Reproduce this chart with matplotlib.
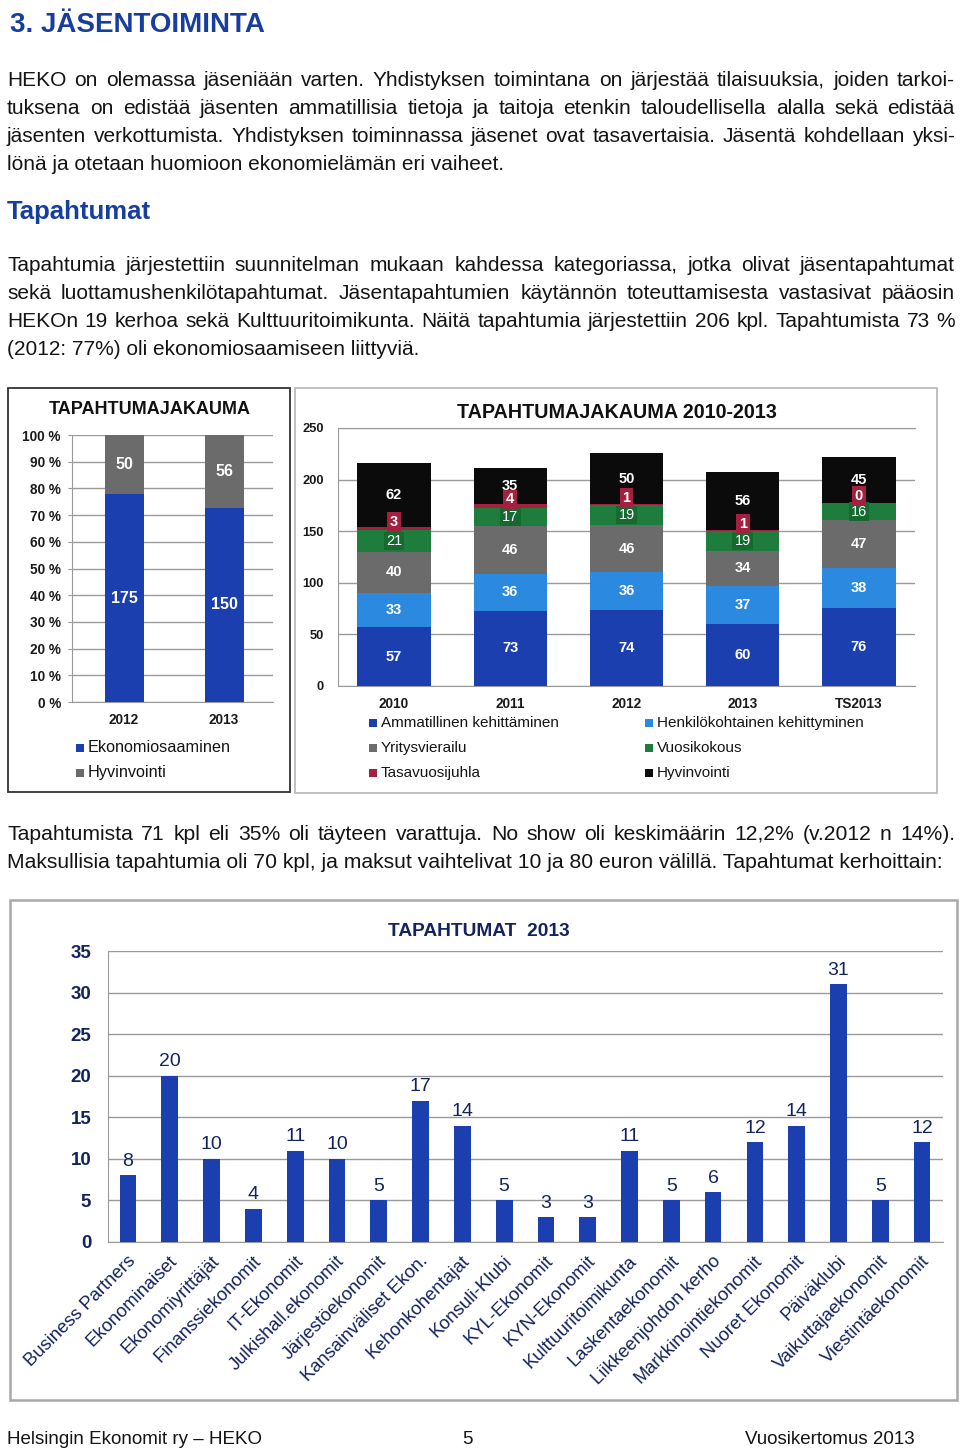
import matplotlib
matplotlib.use('Agg')
import matplotlib.pyplot as plt
from matplotlib.patches import Rectangle
from matplotlib import font_manager as fm
import matplotlib.transforms as mtransforms
import numpy as np

# ---------------- data ----------------
jakauma_years = ['2012', '2013']
ekonomiosaaminen = [175, 150]
hyvinvointi_12_13 = [50, 56]

years = ['2010', '2011', '2012', '2013', 'TS2013']
ammatillinen = [57, 73, 74, 60, 76]
henkilokohtainen = [33, 36, 36, 37, 38]
yritysvierailu = [40, 46, 46, 34, 47]
vuosikokous = [21, 17, 19, 19, 16]
tasavuosijuhla = [3, 4, 1, 1, 0]
hyvinvointi = [62, 35, 50, 56, 45]

kerhot = ['Business Partners', 'Ekonominaiset', 'Ekonomiyrittäjät', 'Finanssiekonomit',
          'IT-Ekonomit', 'Julkishall.ekonomit', 'Järjestöekonomit', 'Kansainväliset Ekon.',
          'Kehonkohentajat', 'Konsuli-Klubi', 'KYL-Ekonomit', 'KYN-Ekonomit',
          'Kulttuuritoimikunta', 'Laskentaekonomit', 'Liikkeenjohdon kerho',
          'Markkinointiekonomit', 'Nuoret Ekonomit', 'Päiväklubi', 'Vaikuttajaekonomit',
          'Viestintäekonomit']
tapahtumat_2013 = [8, 20, 10, 4, 11, 10, 5, 17, 14, 5, 3, 3, 11, 5, 6, 12, 14, 31, 5, 12]

pct_ticks = list(range(0, 101, 10))
mid_ticks = list(range(0, 251, 50))
bot_ticks = list(range(0, 36, 5))

para1 = ["HEKO on olemassa jäseniään varten. Yhdistyksen toimintana on järjestää tilaisuuksia, joiden tarkoi-",
         "tuksena on edistää jäsenten ammatillisia tietoja ja taitoja etenkin taloudellisella alalla sekä edistää",
         "jäsenten verkottumista. Yhdistyksen toiminnassa jäsenet ovat tasavertaisia. Jäsentä kohdellaan yksi-",
         "lönä ja otetaan huomioon ekonomielämän eri vaiheet."]
para2 = ["Tapahtumia järjestettiin suunnitelman mukaan kahdessa kategoriassa, jotka olivat jäsentapahtumat",
         "sekä luottamushenkilötapahtumat. Jäsentapahtumien käytännön toteuttamisesta vastasivat pääosin",
         "HEKOn 19 kerhoa sekä Kulttuuritoimikunta. Näitä tapahtumia järjestettiin 206 kpl. Tapahtumista 73 %",
         "(2012: 77%) oli ekonomiosaamiseen liittyviä."]
para3 = ["Tapahtumista 71 kpl eli 35% oli täyteen varattuja. No show oli keskimäärin 12,2% (v.2012 n 14%).",
         "Maksullisia tapahtumia oli 70 kpl, ja maksut vaihtelivat 10 ja 80 euron välillä. Tapahtumat kerhoittain:"]

# ---------------- setup ----------------
W, H = 960, 1449
fig = plt.figure(figsize=(W / 100, H / 100), dpi=100)
renderer = fig.canvas.get_renderer()

installed = {f.name for f in fm.fontManager.ttflist}
SANS = 'Liberation Sans'
HAS_NARROW = 'Liberation Sans Narrow' in installed
NARROW = 'Liberation Sans Narrow' if HAS_NARROW else 'Liberation Sans'
FOOT_SIZE = 15 if HAS_NARROW else 13.5

HEAD_BLUE = '#173d9e'
TXT = '#141414'
NAVY = '#13235e'
BLUE = '#1b3fae'
LBLUE = '#2b8ae0'
GRAY = '#6b6b6b'
GREEN = '#1e7d3c'
RED = '#a3203f'
BLACK = '#0b0b0b'


def fx(x):
    return x / W


def fy(y):
    return 1 - y / H


def rect(x0, y0, x1, y1):
    return [fx(x0), fy(y1), (x1 - x0) / W, (y1 - y0) / H]


def text_width(s, size, family, weight='normal'):
    t = fig.text(0, 0, s, fontsize=size, family=family, weight=weight)
    w = t.get_window_extent(renderer).width
    t.remove()
    return w


def paragraph(lines, baselines, x0, x1, size, family, justify_last=False, color=TXT):
    n = len(lines)
    for i, s in enumerate(lines):
        if i < n - 1 or justify_last:
            nw = text_width(s, size, family)
            if nw > (x1 - x0) * 0.995:
                size = size * (x1 - x0) * 0.99 / nw
    for i, (s, yb) in enumerate(zip(lines, baselines)):
        if i == n - 1 and not justify_last:
            fig.text(fx(x0), fy(yb), s, fontsize=size, family=family, color=color,
                     ha='left', va='baseline')
            continue
        words = s.split(' ')
        widths = [text_width(w, size, family) for w in words]
        gap = (x1 - x0 - sum(widths)) / (len(words) - 1)
        x = x0
        for w, wd in zip(words, widths):
            fig.text(fx(x), fy(yb), w, fontsize=size, family=family, color=color,
                     ha='left', va='baseline')
            x += wd + gap


def box(x0, y0, x1, y1, color, lw):
    fig.add_artist(Rectangle((fx(x0), fy(y1)), (x1 - x0) / W, (y1 - y0) / H,
                             transform=fig.transFigure, fill=False, edgecolor=color, lw=lw))


def legend_entry(xs, yc, color, label, size=11):
    s = 8
    fig.add_artist(Rectangle((fx(xs), fy(yc + s / 2)), s / W, s / H, transform=fig.transFigure,
                             facecolor=color, edgecolor='none'))
    fig.text(fx(xs + s + 4), fy(yc), label, fontsize=size, family=SANS, color=TXT,
             ha='left', va='center')


# ---------------- text ----------------
fig.text(fx(10), fy(32), '3. JÄSENTOIMINTA', fontsize=20, weight='bold', family=SANS,
         color=HEAD_BLUE, va='baseline')
paragraph(para1, [86, 114, 142, 170], 7, 955, 15, SANS)
fig.text(fx(7), fy(219), 'Tapahtumat', fontsize=18.5, weight='bold', family=SANS,
         color=HEAD_BLUE, va='baseline')
paragraph(para2, [271, 299, 327, 355], 7, 955, 15, NARROW)
paragraph(para3, [840, 868], 7, 955, 15.2, NARROW)

fig.text(fx(7), fy(1444), 'Helsingin Ekonomit ry – HEKO', fontsize=FOOT_SIZE, family=NARROW,
         color=TXT, va='baseline')
fig.text(fx(467), fy(1444), '5', fontsize=FOOT_SIZE, family=NARROW, color=TXT, va='baseline',
         ha='center')
fig.text(fx(915), fy(1444), 'Vuosikertomus 2013', fontsize=FOOT_SIZE, family=NARROW, color=TXT,
         va='baseline', ha='right')

# ---------------- left chart ----------------
box(8, 388, 290, 792, '#333333', 1.3)
fig.text(fx(150), fy(409), 'TAPAHTUMAJAKAUMA', fontsize=13, weight='bold', family=SANS,
         color='#111111', ha='center', va='center')
ax1 = fig.add_axes(rect(72, 435, 273, 702))
tot = np.array(ekonomiosaaminen) + np.array(hyvinvointi_12_13)
p_eko = np.array(ekonomiosaaminen) / tot * 100
p_hyv = np.array(hyvinvointi_12_13) / tot * 100
x1 = np.arange(len(jakauma_years))
ax1.bar(x1, p_eko, 0.39, color=BLUE, zorder=3)
ax1.bar(x1, p_hyv, 0.39, bottom=p_eko, color=GRAY, zorder=3)
for i in range(len(x1)):
    ax1.text(x1[i], p_eko[i] / 2, str(ekonomiosaaminen[i]), color='white', weight='bold',
             fontsize=11.5, ha='center', va='center', family=SANS, zorder=4)
    ax1.text(x1[i], p_eko[i] + p_hyv[i] / 2, str(hyvinvointi_12_13[i]), color='white',
             weight='bold', fontsize=11.5, ha='center', va='center', family=SANS, zorder=4)
ax1.set_xlim(-0.52, 1.49)
ax1.set_ylim(0, 100)
ax1.set_yticks(pct_ticks)
ax1.set_yticklabels([f'{v} %' for v in pct_ticks], fontsize=9.8, weight='bold', family=SANS,
                    color='#1a1a1a')
ax1.set_xticks(x1)
ax1.set_xticklabels(jakauma_years, fontsize=9.8, weight='bold', family=SANS, color='#1a1a1a')
ax1.tick_params(axis='y', length=3, color='#999999', pad=5)
ax1.tick_params(axis='x', length=0, pad=8)
ax1.grid(axis='y', color='#9a9a9a', lw=1, zorder=0)
for s in ['top', 'right']:
    ax1.spines[s].set_visible(False)
for s in ['left', 'bottom']:
    ax1.spines[s].set_color('#9a9a9a')
legend_entry(76, 748, BLUE, 'Ekonomiosaaminen', 11.7)
legend_entry(76, 773, GRAY, 'Hyvinvointi', 11.7)

# ---------------- middle chart ----------------
box(295, 388, 937, 793, '#b5b5b5', 1.2)
fig.text(fx(617), fy(413), 'TAPAHTUMAJAKAUMA 2010-2013', fontsize=14.2, weight='bold',
         family=SANS, color='#111111', ha='center', va='center')
ax2 = fig.add_axes(rect(338, 428, 915, 686))
x2 = np.arange(len(years))
series = [(ammatillinen, BLUE, 'Ammatillinen kehittäminen'),
          (henkilokohtainen, LBLUE, 'Henkilökohtainen kehittyminen'),
          (yritysvierailu, GRAY, 'Yritysvierailu'),
          (vuosikokous, GREEN, 'Vuosikokous'),
          (tasavuosijuhla, RED, 'Tasavuosijuhla'),
          (hyvinvointi, BLACK, 'Hyvinvointi')]
bottom = np.zeros(len(years))
bw = 0.63
for vals, col, name in series:
    vals = np.array(vals)
    ax2.bar(x2, vals, bw, bottom=bottom, color=col, zorder=3)
    for i in range(len(years)):
        yc = bottom[i] + vals[i] / 2
        if col == RED:
            ax2.annotate(str(vals[i]), (x2[i], yc), xytext=(0, 5), textcoords='offset points',
                         color='white', weight='bold', fontsize=10.5, ha='center', va='center',
                         family=SANS, zorder=6,
                         bbox=dict(boxstyle='square,pad=0.2', fc=RED, ec='none'))
        elif col == GREEN:
            ax2.text(x2[i], yc, str(vals[i]), color='white', fontsize=10.5, ha='center',
                     va='center', family=SANS, zorder=5,
                     bbox=dict(boxstyle='square,pad=0.15', fc='#166a30', ec='none'))
        else:
            ax2.text(x2[i], yc, str(vals[i]), color='white', weight='bold', fontsize=10.5,
                     ha='center', va='center', family=SANS, zorder=5)
    bottom = bottom + vals
ax2.set_xlim(-0.482, 4.482)
ax2.set_ylim(0, 250)
ax2.set_yticks(mid_ticks)
ax2.set_yticklabels([str(v) for v in mid_ticks], fontsize=9.3, weight='bold', family=SANS,
                    color='#1a1a1a')
ax2.set_xticks(x2)
ax2.set_xticklabels(years, fontsize=9.8, weight='bold', family=SANS, color='#1a1a1a')
ax2.tick_params(axis='y', length=0, pad=10)
ax2.tick_params(axis='x', length=0, pad=8)
ax2.grid(axis='y', color='#9a9a9a', lw=1, zorder=0)
ax2.spines['right'].set_visible(False)
for s in ['left', 'bottom', 'top']:
    ax2.spines[s].set_color('#9a9a9a')
leg_pos = [(369, 723), (369, 748), (369, 773), (645, 723), (645, 748), (645, 773)]
order = [0, 2, 4, 1, 3, 5]
for (xs, yc), k in zip(leg_pos, order):
    legend_entry(xs, yc, series[k][1], series[k][2], 11)

# ---------------- bottom chart ----------------
box(10, 900, 957, 1400, '#a8a8a8', 1.8)
fig.text(fx(479), fy(931), 'TAPAHTUMAT  2013', fontsize=13.8, weight='bold', family=SANS,
         color=NAVY, ha='center', va='center')
ax3 = fig.add_axes(rect(108, 951, 943, 1242))
x3 = np.arange(len(kerhot))
ax3.bar(x3, tapahtumat_2013, 0.4, color=BLUE, zorder=3)
for i, v in enumerate(tapahtumat_2013):
    ax3.annotate(str(v), (x3[i], v), xytext=(0, 4), textcoords='offset points', ha='center',
                 va='bottom', fontsize=14, family=SANS, color=NAVY)
ax3.set_xlim(-0.478, len(kerhot) - 1 + 0.5)
ax3.set_ylim(0, 35)
ax3.set_yticks(bot_ticks)
ax3.set_yticklabels([str(v) for v in bot_ticks], fontsize=13.5, weight='bold', family=SANS,
                    color=NAVY)
ax3.set_xticks(x3)
ax3.set_xticklabels(kerhot, rotation=45, ha='right', va='center', rotation_mode='anchor',
                    fontsize=13.2, family=SANS, color=NAVY)
ax3.tick_params(axis='y', length=0, pad=12)
ax3.tick_params(axis='x', length=0, pad=12)
off = mtransforms.ScaledTranslation(5 / 100, 0, fig.dpi_scale_trans)
for lab in ax3.get_xticklabels():
    lab.set_transform(lab.get_transform() + off)
ax3.grid(axis='y', color='#9a9a9a', lw=1, zorder=0)
ax3.spines['right'].set_visible(False)
ax3.spines['top'].set_visible(False)
for s in ['left', 'bottom']:
    ax3.spines[s].set_color('#9a9a9a')

fig.savefig('out.png', dpi=100)
